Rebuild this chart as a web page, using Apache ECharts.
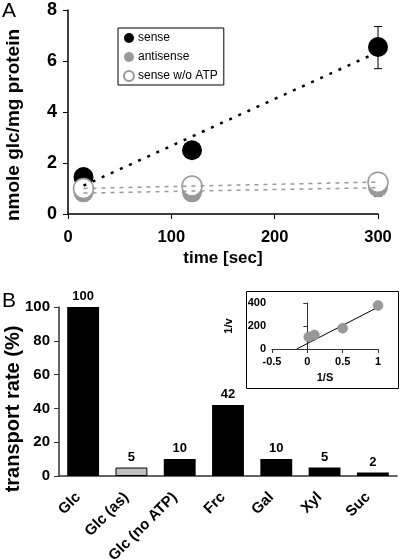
<!DOCTYPE html>
<html><head><meta charset="utf-8">
<script src="https://cdn.jsdelivr.net/npm/echarts@6/dist/echarts.min.js"></script>
<style>html,body{margin:0;padding:0;background:#fff}#c{width:400px;height:559px}</style>
</head><body><div id="c"></div>
<script>
// Panel A data: time course
const timePoints = [15, 120, 300];
const senseVals = [1.45, 2.5, 6.55];
const antisenseVals = [0.85, 0.85, 1.05];
const noAtpVals = [1.0, 1.1, 1.25];
const senseErr = [[300, 5.7, 7.35]];
const noAtpErr = [[120, 1.0, 1.38], [300, 0.7, 1.25]];

// Panel B data: substrate specificity
const substrates = ['Glc', 'Glc (as)', 'Glc (no ATP)', 'Frc', 'Gal', 'Xyl', 'Suc'];
const rates = [100, 5, 10, 42, 10, 5, 2];

// Inset: Lineweaver-Burk
const invS = [0.02, 0.1, 0.5, 1.0];
const invV = [105, 122, 180, 378];
const fitLine = [[-0.15, 0], [1.02, 370]];

function fit(xs, ys) {
  const n = xs.length;
  const mx = xs.reduce((a, b) => a + b, 0) / n, my = ys.reduce((a, b) => a + b, 0) / n;
  let sxy = 0, sxx = 0;
  for (let i = 0; i < n; i++) { sxy += (xs[i] - mx) * (ys[i] - my); sxx += (xs[i] - mx) ** 2; }
  const b = sxy / sxx, a = my - b * mx;
  return [[xs[0], a + b * xs[0]], [xs[n - 1], a + b * xs[n - 1]]];
}
const pairs = v => timePoints.map((t, i) => [t, v[i]]);

const F = 'Liberation Sans, Arial, sans-serif';
const bold = (s) => ({ fontFamily: F, fontWeight: 'bold', fontSize: s, color: '#000' });

function errItem(params, api) {
  const p1 = api.coord([api.value(0), api.value(1)]);
  const p2 = api.coord([api.value(0), api.value(2)]);
  const w = 4;
  const st = { stroke: '#000', lineWidth: 1 };
  return { type: 'group', children: [
    { type: 'line', shape: { x1: p1[0], y1: p1[1], x2: p2[0], y2: p2[1] }, style: st },
    { type: 'line', shape: { x1: p1[0] - w, y1: p1[1], x2: p1[0] + w, y2: p1[1] }, style: st },
    { type: 'line', shape: { x1: p2[0] - w, y1: p2[1], x2: p2[0] + w, y2: p2[1] }, style: st }
  ]};
}

const chart = echarts.init(document.getElementById('c'), null, { renderer: 'canvas' });
chart.setOption({
  animation: false,
  backgroundColor: '#fff',
  textStyle: { fontFamily: F },
  graphic: [
    { type: 'text', left: 2, top: 1, style: { text: 'A', font: '21px ' + F, fill: '#000' } },
    { type: 'text', left: 2, top: 291, style: { text: 'B', font: '21px ' + F, fill: '#000' } },
    { type: 'text', x: 14, y: 125, rotation: Math.PI / 2,
      style: { text: 'nmole glc/mg protein', font: 'bold 19px ' + F, fill: '#000', align: 'center', verticalAlign: 'middle' } },
    { type: 'text', x: 13, y: 409, rotation: Math.PI / 2,
      style: { text: 'transport rate (%)', font: 'bold 20px ' + F, fill: '#000', align: 'center', verticalAlign: 'middle' } },
    { type: 'rect', shape: { x: 246.5, y: 291.5, width: 152, height: 97 }, style: { fill: 'none', stroke: '#000', lineWidth: 1 }, z: -1 }
  ],
  legend: {
    data: ['sense', 'antisense', 'sense w/o ATP'],
    orient: 'vertical', left: 118, top: 28,
    borderColor: '#000', borderWidth: 1, borderRadius: 0,
    padding: [4, 6, 3, 5], itemGap: 7, itemWidth: 10, itemHeight: 10,
    textStyle: { fontFamily: F, fontSize: 12, color: '#000', padding: [0, 0, 0, -1] }
  },
  grid: [
    { left: 68, right: 22, top: 10, bottom: 345, containLabel: false, outerBoundsMode: 'none' },
    { left: 59, right: 3, top: 307, bottom: 83, containLabel: false, outerBoundsMode: 'none' },
    { left: 272, right: 22, top: 303, bottom: 210, containLabel: false, outerBoundsMode: 'none' }
  ],
  xAxis: [
    { gridIndex: 0, type: 'value', min: 0, max: 300, interval: 100,
      axisLine: { lineStyle: { color: '#000', width: 1.5 } },
      axisTick: { length: 5, lineStyle: { color: '#000' } },
      splitLine: { show: false },
      axisLabel: Object.assign(bold(16.5), { margin: 15 }),
      name: 'time [sec]', nameLocation: 'middle', nameGap: 36, nameTextStyle: bold(17) },
    { gridIndex: 1, type: 'category', data: substrates,
      axisLine: { lineStyle: { color: '#333', width: 1.5 } },
      axisTick: { length: 5, lineStyle: { color: '#333' } },
      axisLabel: Object.assign(bold(15), { rotate: 45, margin: 14, interval: 0, padding: [0, 7, 0, 0] }) },
    { gridIndex: 2, type: 'value', min: -0.5, max: 1, interval: 0.5,
      axisLine: { lineStyle: { color: '#333', width: 1 } },
      axisTick: { length: 4, lineStyle: { color: '#333' } },
      splitLine: { show: false },
      axisLabel: Object.assign(bold(11), { margin: 7 }),
      name: '1/S', nameLocation: 'middle', nameGap: 23, nameTextStyle: bold(11) }
  ],
  yAxis: [
    { gridIndex: 0, type: 'value', min: 0, max: 8, interval: 2,
      axisLine: { show: true, lineStyle: { color: '#000', width: 1.5 } },
      axisTick: { show: true, length: 5, lineStyle: { color: '#000' } },
      splitLine: { show: false },
      axisLabel: Object.assign(bold(18), { margin: 11 }) },
    { gridIndex: 1, type: 'value', min: 0, max: 100, interval: 20,
      axisLine: { show: true, lineStyle: { color: '#333', width: 1.5 } },
      axisTick: { show: true, length: 5, lineStyle: { color: '#333' } },
      splitLine: { show: false },
      axisLabel: Object.assign(bold(15), { margin: 9 }) },
    { gridIndex: 2, type: 'value', min: 0, max: 400, interval: 200,
      axisLine: { show: true, onZero: true, lineStyle: { color: '#333', width: 1 } },
      axisTick: { show: true, length: 4, lineStyle: { color: '#333' } },
      splitLine: { show: false },
      axisLabel: Object.assign(bold(11), { margin: 6 }),
      name: '1/v', nameLocation: 'middle', nameGap: 38, nameTextStyle: bold(11) }
  ],
  series: [
    { type: 'custom', xAxisIndex: 0, yAxisIndex: 0, data: senseErr, renderItem: errItem, z: 1 },
    { type: 'custom', xAxisIndex: 0, yAxisIndex: 0, data: noAtpErr, renderItem: errItem, z: 1 },
    { name: 'sense', type: 'scatter', xAxisIndex: 0, yAxisIndex: 0, data: pairs(senseVals), symbolSize: 20,
      itemStyle: { color: '#000', opacity: 1 }, z: 2 },
    { name: 'antisense', type: 'scatter', xAxisIndex: 0, yAxisIndex: 0, data: pairs(antisenseVals), symbolSize: 20,
      itemStyle: { color: '#999', opacity: 1 }, z: 3 },
    { name: 'sense w/o ATP', type: 'scatter', xAxisIndex: 0, yAxisIndex: 0, data: pairs(noAtpVals), symbolSize: 20,
      itemStyle: { color: '#fff', borderColor: '#999', borderWidth: 1.5, opacity: 1 }, z: 4 },
    { type: 'line', xAxisIndex: 0, yAxisIndex: 0, data: fit(timePoints, senseVals), symbol: 'none',
      lineStyle: { color: '#000', width: 2.5, type: [3, 7] }, z: 5 },
    { type: 'line', xAxisIndex: 0, yAxisIndex: 0, data: fit(timePoints, antisenseVals), symbol: 'none',
      lineStyle: { color: '#999', width: 1.5, type: [4, 5] }, z: 5 },
    { type: 'line', xAxisIndex: 0, yAxisIndex: 0, data: fit(timePoints, noAtpVals), symbol: 'none',
      lineStyle: { color: '#999', width: 1.5, type: [4, 5] }, z: 5 },
    { type: 'bar', xAxisIndex: 1, yAxisIndex: 1, barCategoryGap: '34%',
      data: rates.map((v, i) => ({ value: v, itemStyle: i === 1 ? { color: '#c0c0c0', borderColor: '#000', borderWidth: 1 } : { color: '#000' } })),
      label: { show: true, position: 'top', distance: 4, fontFamily: F, fontWeight: 'bold', fontSize: 13, color: '#000' } },
    { type: 'line', xAxisIndex: 2, yAxisIndex: 2, data: fitLine, symbol: 'none',
      lineStyle: { color: '#000', width: 1 }, z: 3 },
    { type: 'scatter', xAxisIndex: 2, yAxisIndex: 2, data: invS.map((x, i) => [x, invV[i]]), symbolSize: 10,
      itemStyle: { color: '#999', borderColor: '#888', borderWidth: 0.5, opacity: 1 }, z: 4 }
  ]
});
</script></body></html>
